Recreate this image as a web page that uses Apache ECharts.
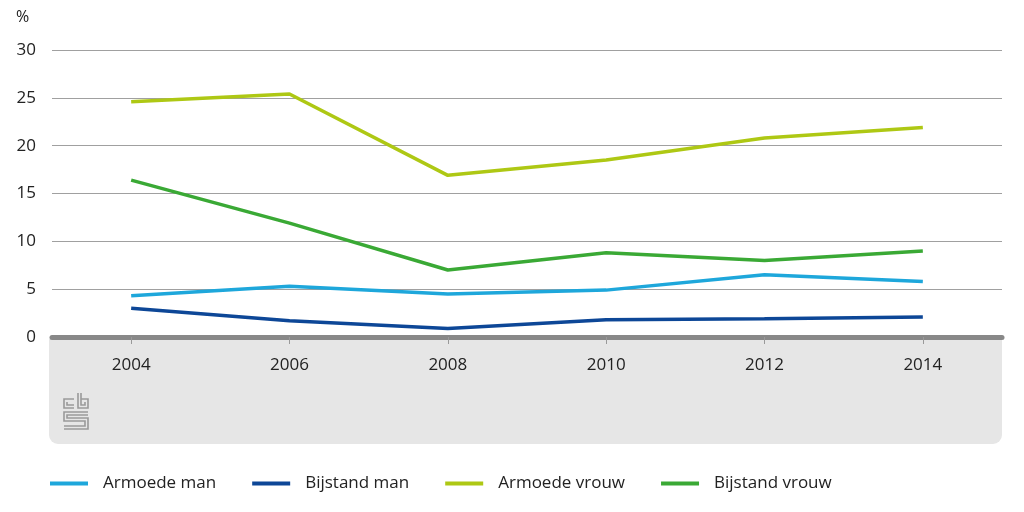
<!DOCTYPE html>
<html><head><meta charset="utf-8">
<script src="https://cdn.jsdelivr.net/npm/echarts@6/dist/echarts.min.js"></script>
<style>html,body{margin:0;padding:0;background:#fff}#c{width:1024px;height:512px}</style>
</head><body><div id="c"></div>
<script>
var years = ['2004','2006','2008','2010','2012','2014'];
var armoedeMan = [4.3, 5.3, 4.5, 4.9, 6.5, 5.8];
var bijstandMan = [3.0, 1.7, 0.9, 1.8, 1.9, 2.1];
var armoedeVrouw = [24.6, 25.4, 16.9, 18.5, 20.8, 21.9];
var bijstandVrouw = [16.4, 11.9, 7.0, 8.8, 8.0, 9.0];
var seriesNames = ['Armoede man','Bijstand man','Armoede vrouw','Bijstand vrouw'];
var seriesColors = ['#1ea7db','#0d4797','#aec814','#3aa935'];
var seriesData = [armoedeMan, bijstandMan, armoedeVrouw, bijstandVrouw];
var font = "'Open Sans', 'Noto Sans', sans-serif";

var chart = echarts.init(document.getElementById('c'), null, {renderer:'canvas'});
var logo = {stroke:'#9a9a9a', lineWidth:1.6, fill:null};
chart.setOption({
  animation:false,
  textStyle:{fontFamily:font},
  grid:{left:52, right:22, top:50, bottom:175},
  graphic:[
    {type:'rect', z:-10, shape:{x:49,y:339,width:953,height:105,r:[0,0,9,9]}, style:{fill:'#e6e6e6'}},
    {type:'text', left:16, top:9, style:{text:'%', fontSize:16, fill:'#222', fontFamily:font}},
    {type:'polyline', shape:{points:[[74,399],[64,399],[64,408],[74,408]]}, style:logo},
    {type:'polyline', shape:{points:[[67,402],[67,405],[74,405]]}, style:logo},
    {type:'polyline', shape:{points:[[78,393],[78,408],[88,408],[88,399],[81,399]]}, style:logo},
    {type:'polyline', shape:{points:[[81,393],[81,405],[85,405],[85,402]]}, style:logo},
    {type:'polyline', shape:{points:[[88,412],[64,412],[64,421],[85,421],[85,426],[64,426]]}, style:logo},
    {type:'polyline', shape:{points:[[88,415],[67,415],[67,418],[88,418],[88,429],[64,429]]}, style:logo}
  ],
  legend:{
    bottom:15, left:45, itemWidth:38, itemHeight:4, itemGap:36, icon:'rect',
    data:seriesNames,
    textStyle:{fontSize:17, color:'#222', fontFamily:font, padding:[0,0,0,10]}
  },
  xAxis:{
    type:'category', data:years, boundaryGap:true, offset:2,
    axisLine:{show:true, lineStyle:{color:'#888', width:5}},
    axisTick:{show:true, alignWithLabel:true, length:7, lineStyle:{color:'#999', width:1}},
    axisLabel:{fontSize:17, color:'#222', margin:18, fontFamily:font},
    splitLine:{show:false}
  },
  yAxis:{
    type:'value', min:0, max:30, interval:5,
    axisLine:{show:false}, axisTick:{show:false},
    axisLabel:{fontSize:17, color:'#222', margin:16, fontFamily:font},
    splitLine:{lineStyle:{color:'#a0a0a0', width:1}}
  },
  series: seriesNames.map(function(n,i){
    return {name:n, type:'line', data:seriesData[i], symbol:'none',
      lineStyle:{color:seriesColors[i], width:3.5}, itemStyle:{color:seriesColors[i]}};
  })
});
</script></body></html>
